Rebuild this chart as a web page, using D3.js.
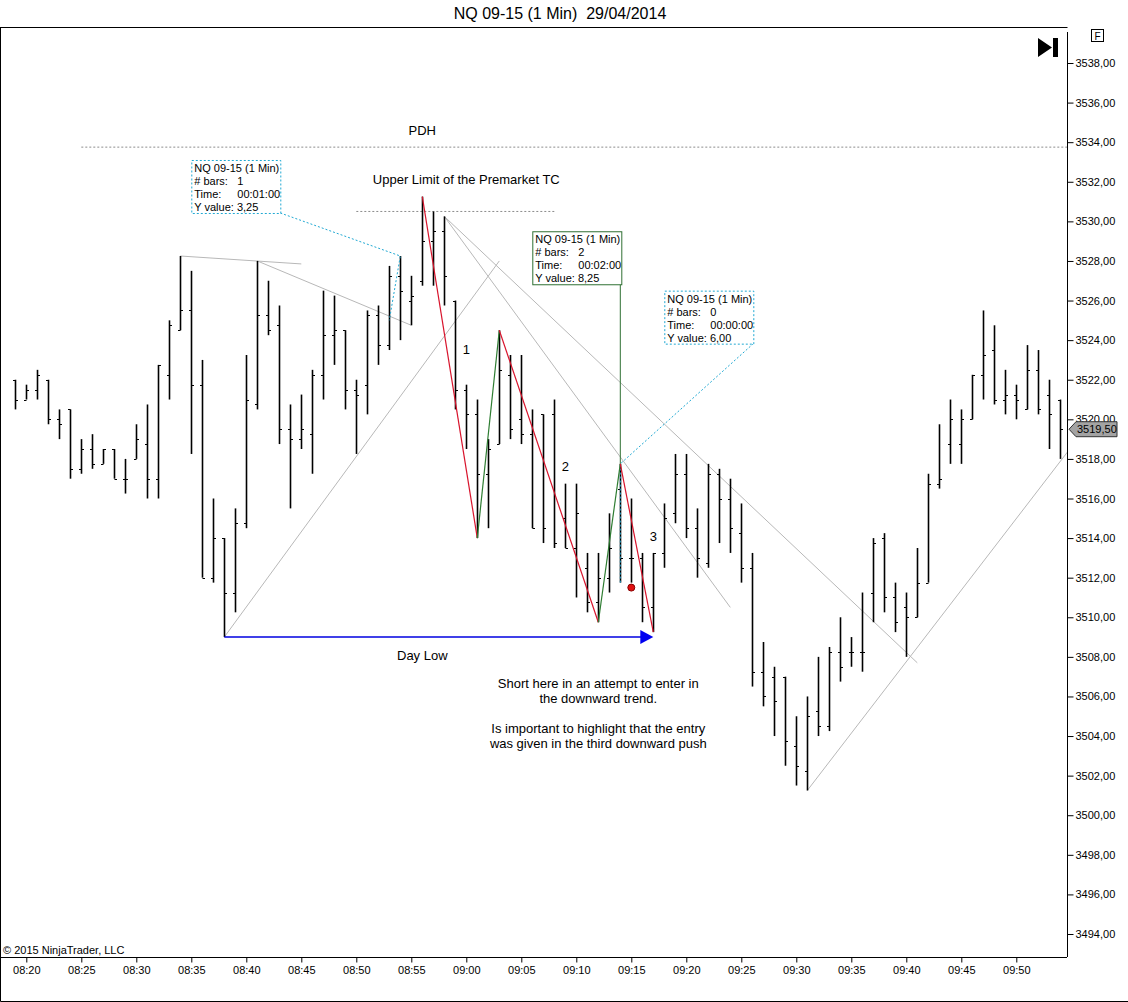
<!DOCTYPE html>
<html lang="en">
<head>
    <meta charset="UTF-8">
    <title>NQ 09-15 (1 Min)</title>
    <script src="https://d3js.org/d3.v7.min.js"></script>
    <style>
        body { margin: 0; background: #fff; }
        svg { display: block; font-family: "Liberation Sans", Arial, sans-serif; }
        .bar line { stroke: #000; }
        .axis text { font-size: 11px; fill: #000; }
        .axis line { stroke: #000; }
        .note { font-size: 13px; fill: #000; }
        .box text { font-size: 11px; fill: #000; }
    </style>
</head>
<body>
    <svg width="1128" height="1002"></svg>
    <script>
        // 1 minute bars, 08:19 .. 09:54
        const times = [
            "08:19","08:20","08:21","08:22","08:23","08:24","08:25","08:26","08:27","08:28",
            "08:29","08:30","08:31","08:32","08:33","08:34","08:35","08:36","08:37","08:38",
            "08:39","08:40","08:41","08:42","08:43","08:44","08:45","08:46","08:47","08:48",
            "08:49","08:50","08:51","08:52","08:53","08:54","08:55","08:56","08:57","08:58",
            "08:59","09:00","09:01","09:02","09:03","09:04","09:05","09:06","09:07","09:08",
            "09:09","09:10","09:11","09:12","09:13","09:14","09:15","09:16","09:17","09:18",
            "09:19","09:20","09:21","09:22","09:23","09:24","09:25","09:26","09:27","09:28",
            "09:29","09:30","09:31","09:32","09:33","09:34","09:35","09:36","09:37","09:38",
            "09:39","09:40","09:41","09:42","09:43","09:44","09:45","09:46","09:47","09:48",
            "09:49","09:50","09:51","09:52","09:53","09:54"
        ];
        const opens = [
            3522.0,3521.0,3521.5,3522.0,3520.0,3520.5,3517.5,3518.5,3517.75,3518.5,
            3517.0,3518.0,3518.75,3517.0,3522.25,3524.5,3525.5,3521.75,3512.0,3514.0,
            3511.25,3514.75,3520.75,3525.25,3524.75,3519.5,3519.0,3519.25,3522.25,3524.25,
            3524.5,3521.5,3521.75,3525.25,3523.75,3527.25,3526.0,3527.0,3529.0,3529.5,
            3526.0,3521.5,3520.25,3517.25,3518.75,3522.25,3520.0,3519.25,3520.25,3520.25,
            3515.0,3513.5,3512.5,3510.75,3512.0,3516.5,3513.0,3513.0,3510.5,3513.25,
            3515.25,3517.25,3514.5,3512.75,3517.25,3516.0,3514.25,3512.5,3507.25,3507.0,
            3507.0,3503.5,3502.25,3505.25,3504.5,3508.25,3508.25,3508.25,3511.25,3514.0,
            3511.0,3510.5,3510.0,3511.75,3516.75,3518.75,3518.75,3520.0,3522.25,3523.5,
            3521.0,3521.25,3520.5,3522.5,3521.25,3521.0
        ];
        const highs = [
            3522.0,3521.75,3522.5,3522.0,3520.5,3520.5,3519.0,3519.25,3518.5,3518.5,
            3518.0,3519.75,3520.75,3522.75,3525.0,3528.25,3527.5,3523.0,3516.0,3514.0,
            3515.5,3523.25,3528.0,3527.0,3525.75,3520.75,3521.25,3522.5,3526.5,3526.25,
            3524.5,3522.0,3525.5,3525.75,3527.75,3528.25,3527.25,3531.25,3530.5,3530.25,
            3526.0,3521.75,3521.0,3519.0,3524.5,3523.25,3523.25,3520.5,3520.25,3521.0,
            3516.75,3516.75,3513.25,3513.25,3515.25,3517.75,3516.0,3513.25,3513.25,3515.75,
            3518.25,3518.25,3515.5,3517.75,3517.5,3517.0,3515.75,3513.25,3508.75,3507.5,
            3507.0,3505.0,3506.0,3508.0,3508.5,3510.0,3509.0,3511.25,3514.0,3514.25,
            3511.75,3511.25,3513.5,3517.25,3519.75,3521.0,3520.5,3522.25,3525.5,3524.75,
            3522.5,3521.75,3523.75,3523.5,3522.0,3521.0
        ];
        const lows = [
            3520.5,3521.0,3521.0,3519.75,3519.0,3517.0,3517.25,3517.5,3517.75,3517.0,
            3516.25,3518.0,3516.0,3516.0,3521.0,3524.5,3518.25,3512.0,3511.75,3509.0,
            3510.25,3514.5,3520.5,3524.25,3518.75,3515.5,3518.5,3517.25,3521.0,3522.75,
            3520.5,3518.25,3520.25,3522.75,3523.5,3524.0,3524.75,3526.75,3526.75,3525.75,
            3520.5,3518.5,3514.0,3514.5,3518.75,3519.0,3518.75,3514.5,3513.75,3513.5,
            3513.5,3511.0,3510.25,3509.75,3511.25,3511.75,3511.75,3509.75,3509.25,3512.5,
            3514.75,3514.0,3512.0,3512.5,3513.75,3513.25,3511.75,3506.5,3505.5,3504.0,
            3502.5,3501.5,3501.25,3504.0,3504.25,3506.75,3507.5,3507.25,3509.75,3510.25,
            3509.25,3508.0,3510.0,3511.75,3516.5,3517.75,3517.75,3520.0,3521.0,3520.75,
            3520.25,3520.0,3520.5,3520.25,3518.5,3518.0
        ];
        const closes = [
            3521.0,3521.5,3522.25,3520.0,3519.75,3517.5,3518.5,3517.75,3518.5,3517.0,
            3517.0,3519.0,3517.0,3522.75,3524.75,3525.5,3521.75,3512.0,3514.0,3511.25,
            3514.75,3521.0,3525.25,3524.5,3519.5,3519.0,3519.5,3522.25,3524.25,3524.5,
            3521.5,3521.25,3525.25,3523.75,3527.25,3526.5,3526.25,3529.0,3529.5,3527.25,
            3521.5,3520.25,3517.25,3518.5,3522.5,3519.5,3519.25,3514.5,3514.5,3513.75,
            3513.5,3515.25,3510.75,3512.0,3513.5,3513.0,3513.0,3510.5,3513.25,3515.0,
            3517.25,3514.5,3513.0,3517.25,3516.0,3514.5,3512.5,3507.25,3506.0,3505.75,
            3503.75,3502.5,3505.0,3504.5,3508.25,3507.5,3508.25,3508.25,3513.75,3511.0,
            3509.75,3510.0,3511.75,3516.75,3517.0,3520.0,3520.0,3522.25,3523.25,3521.0,
            3521.25,3521.0,3522.5,3520.5,3520.25,3519.5
        ];

        const priceTicks = [3494,3496,3498,3500,3502,3504,3506,3508,3510,3512,3514,
                            3516,3518,3520,3522,3524,3526,3528,3530,3532,3534,3536,3538];
        const timeTicks = ["08:20","08:25","08:30","08:35","08:40","08:45","08:50","08:55",
                           "09:00","09:05","09:10","09:15","09:20","09:25","09:30","09:35",
                           "09:40","09:45","09:50"];
        const lastPrice = 3519.5;

        // drawn objects (time, price)
        const pdh = ["08:25", 3533.75, "09:56"];
        const tcLine = ["08:50", 3530.5, "09:08"];
        const trendLines = [
            ["08:34", 3528.25, "08:45", 3527.85],
            ["08:41", 3528.0, "08:55", 3524.75],
            ["08:38", 3509.0, "09:03", 3528.0],
            ["08:58", 3530.25, "09:24", 3510.5],
            ["08:58", 3530.25, "09:41", 3507.7],
            ["09:31", 3501.25, "09:55", 3518.6]
        ];
        const zigTimes = ["08:56", "09:01", "09:03", "09:12", "09:14", "09:17"];
        const zigPrices = [3531.25, 3514.0, 3524.5, 3509.75, 3517.75, 3509.25];
        const dayLow = ["08:38", "09:17", 3509.0];
        const entry = ["09:15", 3511.5];
        const pushLabels = [["1", "09:00", 3523.55], ["2", "09:09", 3517.6], ["3", "09:17", 3514.1]];
        const notes = [
            ["PDH", "08:56", 3534.6],
            ["Upper Limit of the Premarket TC", "09:00", 3532.1],
            ["Day Low", "08:56", 3508.05]
        ];
        const comment = ["Short here in an attempt to enter in", "the downward trend.", "",
                         "Is important to highlight that the entry", "was given in the third downward push"];
        const commentAt = ["09:12", 3506.67];

        // measuring tools
        const rulers = [
            { bars: "1", time: "00:01:00", yv: "3,25", box: ["08:35", 3533.1],
              from: ["08:53", 3525.0], to: ["08:54", 3528.25], color: "#21a9d3", dashed: true },
            { bars: "2", time: "00:02:00", yv: "8,25", box: ["09:06", 3529.5],
              from: ["09:12", 3509.75], to: ["09:14", 3517.75], color: "#2f7032", dashed: false },
            { bars: "0", time: "00:00:00", yv: "6,00", box: ["09:18", 3526.5],
              from: ["09:14", 3511.75], to: ["09:14", 3517.75], color: "#21a9d3", dashed: true }
        ];

        const parse = d3.timeParse("%H:%M");
        const svg = d3.select("svg");
        const W = 1128, H = 1002;
        const plotR = 1067, plotT = 27, plotB = 957;

        const x = d3.scaleTime().domain([parse("08:19"), parse("09:54")]).range([15.3, 1060.3]);
        const y = d3.scaleLinear().domain([3494, 3538]).range([934, 63]);
        const X = t => x(parse(t));

        svg.append("defs").append("clipPath").attr("id", "plot")
            .append("rect").attr("x", 1).attr("y", plotT + 1)
            .attr("width", plotR - 1).attr("height", plotB - plotT - 1);

        // title
        svg.append("text").attr("x", 560).attr("y", 19).attr("text-anchor", "middle")
            .style("font-size", "16px").text("NQ 09-15 (1 Min)\u00a0\u00a029/04/2014");

        // frame
        svg.append("path").attr("fill", "none").attr("stroke", "#000")
            .attr("d", `M0.5,${plotT + 0.5}H${plotR + 0.5}M0.5,${plotT}V${H - 0.5}H${W}M${plotR + 0.5},32V${plotB}`);
        svg.append("line").attr("x1", 0).attr("x2", plotR).attr("y1", plotB + 0.5).attr("y2", plotB + 0.5)
            .attr("stroke", "#000");

        // axes
        const yAxis = svg.append("g").attr("class", "axis")
            .attr("transform", `translate(${plotR + 0.5},0)`)
            .call(d3.axisRight(y).tickValues(priceTicks).tickSize(6).tickPadding(2)
                .tickFormat(d => d3.format(".2f")(d).replace(".", ",")));
        yAxis.select(".domain").remove();

        const xAxis = svg.append("g").attr("class", "axis")
            .attr("transform", `translate(0,${plotB + 0.5})`)
            .call(d3.axisBottom(x).tickValues(timeTicks.map(parse)).tickSize(5).tickPadding(4)
                .tickFormat(d3.timeFormat("%H:%M")));
        xAxis.select(".domain").remove();

        // last price marker
        const lp = y(lastPrice);
        svg.append("path").attr("fill", "#a3a3a3").attr("stroke", "#333")
            .attr("d", `M${plotR + 2},${lp}L${plotR + 9},${lp - 7.5}H1117V${lp + 7.5}H${plotR + 9}Z`);
        svg.append("text").attr("x", 1077).attr("y", lp).attr("dy", "0.35em")
            .style("font-size", "11px").text(d3.format(".2f")(lastPrice).replace(".", ","));

        // icons at top right
        svg.append("path").attr("fill", "#000").attr("d", "M1038,38L1052,47.5L1038,57Z M1053,38h5v19h-5Z");
        svg.append("rect").attr("x", 1091.5).attr("y", 29.5).attr("width", 12).attr("height", 12)
            .attr("fill", "#fff").attr("stroke", "#000");
        svg.append("text").attr("x", 1097.5).attr("y", 39.5).attr("text-anchor", "middle")
            .style("font-size", "10px").text("F");

        // copyright
        svg.append("text").attr("x", 3).attr("y", 954).style("font-size", "11px")
            .text("\u00a9 2015 NinjaTrader, LLC");

        const plot = svg.append("g").attr("clip-path", "url(#plot)");

        // horizontal reference lines
        plot.append("line").attr("x1", X(pdh[0])).attr("x2", X(pdh[2]))
            .attr("y1", y(pdh[1])).attr("y2", y(pdh[1]))
            .attr("stroke", "#8c8c8c").attr("stroke-dasharray", "2,2");
        plot.append("line").attr("x1", X(tcLine[0])).attr("x2", X(tcLine[2]))
            .attr("y1", y(tcLine[1])).attr("y2", y(tcLine[1]))
            .attr("stroke", "#8c8c8c").attr("stroke-dasharray", "2,2");

        // trend lines
        plot.selectAll(".trend").data(trendLines).enter().append("line")
            .attr("class", "trend")
            .attr("x1", d => X(d[0])).attr("y1", d => y(d[1]))
            .attr("x2", d => X(d[2])).attr("y2", d => y(d[3]))
            .attr("stroke", "#b8b8b8").attr("stroke-width", 1);

        // OHLC bars
        const bars = plot.selectAll(".bar").data(times).enter().append("g")
            .attr("class", "bar")
            .attr("transform", d => `translate(${Math.round(X(d)) + 0.5},0)`);
        bars.append("line").attr("y1", (d, i) => y(highs[i])).attr("y2", (d, i) => y(lows[i]))
            .attr("stroke-width", 1.6);
        bars.append("line").attr("x1", -2.5).attr("x2", 0)
            .attr("y1", (d, i) => Math.round(y(opens[i])) + 0.5).attr("y2", (d, i) => Math.round(y(opens[i])) + 0.5);
        bars.append("line").attr("x1", 0).attr("x2", 2.5)
            .attr("y1", (d, i) => Math.round(y(closes[i])) + 0.5).attr("y2", (d, i) => Math.round(y(closes[i])) + 0.5);

        // measuring tools
        const boxW = 89, boxH = 53;
        rulers.forEach(r => {
            const bx = X(r.box[0]), by = y(r.box[1]);
            const fx = X(r.from[0]), fy = y(r.from[1]);
            const tx = X(r.to[0]), ty = y(r.to[1]);
            const dash = r.dashed ? "2,2" : null;
            if (r.dashed) {
                plot.append("path").attr("fill", "none").attr("stroke", r.color).attr("stroke-dasharray", dash)
                    .attr("d", `M${bx + boxW},${by + boxH}L${tx},${ty}L${fx},${fy}`);
            } else {
                // vertical connector from box down to the measured high
                plot.append("line").attr("x1", tx).attr("x2", tx).attr("y1", by + boxH).attr("y2", ty)
                    .attr("stroke", r.color);
            }
            const g = plot.append("g").attr("class", "box").attr("transform", `translate(${bx},${by})`);
            g.append("rect").attr("x", 0.5).attr("y", 0.5).attr("width", boxW).attr("height", boxH)
                .attr("fill", "#fff").attr("stroke", r.color).attr("stroke-dasharray", dash);
            const rows = [["NQ 09-15 (1 Min)", ""], ["# bars:", r.bars], ["Time:", r.time], ["Y value: " + r.yv, ""]];
            rows.forEach((row, k) => {
                g.append("text").attr("x", 3).attr("y", 12 + k * 13).text(row[0]);
                if (row[1]) g.append("text").attr("x", 46).attr("y", 12 + k * 13).text(row[1]);
            });
        });

        // zigzag of pushes
        const zig = zigTimes.map((t, i) => [X(t), y(zigPrices[i])]);
        for (let i = 0; i < zig.length - 1; i++) {
            plot.append("line")
                .attr("x1", zig[i][0]).attr("y1", zig[i][1])
                .attr("x2", zig[i + 1][0]).attr("y2", zig[i + 1][1])
                .attr("stroke", i % 2 === 0 ? "#d8142c" : "#2e7d32").attr("stroke-width", 1.2);
        }

        // day low arrow
        const dlx1 = X(dayLow[0]), dlx2 = X(dayLow[1]), dly = y(dayLow[2]);
        plot.append("line").attr("x1", dlx1).attr("x2", dlx2 - 12).attr("y1", dly).attr("y2", dly)
            .attr("stroke", "#0000e0").attr("stroke-width", 1.5);
        plot.append("path").attr("fill", "#0000f0")
            .attr("d", `M${dlx2},${dly}L${dlx2 - 13},${dly - 7}L${dlx2 - 13},${dly + 7}Z`);

        // entry dot
        plot.append("circle").attr("cx", X(entry[0])).attr("cy", y(entry[1])).attr("r", 3.5)
            .attr("fill", "#e01010").attr("stroke", "#800");

        // texts
        plot.selectAll(".push").data(pushLabels).enter().append("text")
            .attr("class", "note").attr("text-anchor", "middle")
            .attr("x", d => X(d[1])).attr("y", d => y(d[2])).attr("dy", "0.35em")
            .text(d => d[0]);
        plot.selectAll(".lbl").data(notes).enter().append("text")
            .attr("class", "note").attr("text-anchor", "middle")
            .attr("x", d => X(d[1])).attr("y", d => y(d[2])).attr("dy", "0.35em")
            .text(d => d[0]);
        const cm = plot.append("text").attr("class", "note").attr("text-anchor", "middle");
        comment.forEach((line, k) => {
            cm.append("tspan").attr("x", X(commentAt[0]))
                .attr("y", y(commentAt[1]) + k * 15).attr("dy", "0.35em").text(line);
        });
    </script>
</body>
</html>
